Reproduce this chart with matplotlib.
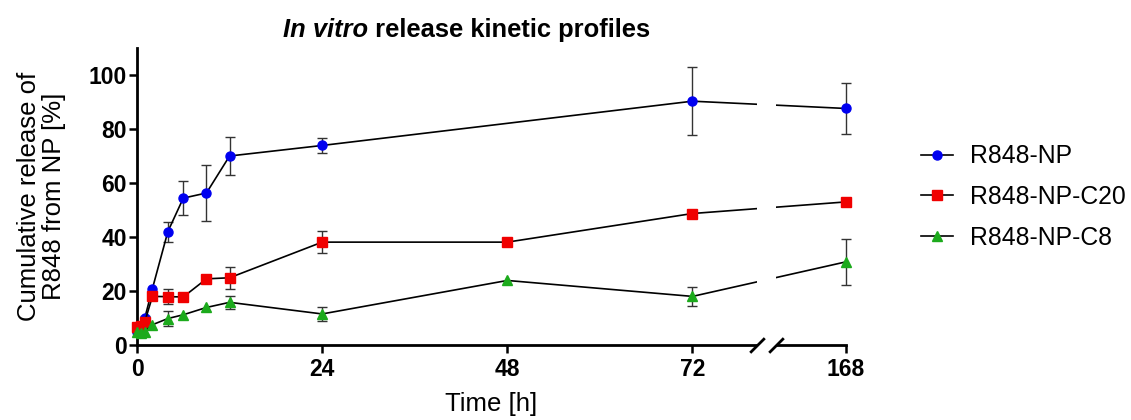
import matplotlib
matplotlib.use("Agg")
import matplotlib.pyplot as plt
import matplotlib.transforms as mtransforms
from matplotlib.patches import Rectangle
import numpy as np

plt.rcParams['font.family'] = ['Liberation Sans', 'DejaVu Sans']

# sampling times [h]
time = np.array([0, 0.5, 1, 2, 4, 6, 9, 12, 24, 48, 72, 168])

# cumulative release [%] (nan = not measured)
np_mean = np.array([5.0, 5.8, 9.9, 20.9, 42.0, 54.4, 56.3, 70.0, 73.9, np.nan, 90.3, 87.6])
np_sd = np.array([0, 0, 0.8, 0, 3.7, 6.3, 10.2, 7.0, 2.8, 0, 12.7, 9.3])
c20_mean = np.array([6.8, 7.0, 8.5, 18.0, 17.9, 17.8, 24.5, 24.9, 38.1, 38.1, 48.7, 53.0])
c20_sd = np.array([0, 0, 0, 1.0, 2.8, 0.8, 1.5, 4.0, 4.2, 0, 0, 0])
c8_mean = np.array([5.0, 4.5, 5.0, 7.5, 9.8, 11.2, 13.9, 15.8, 11.5, 23.9, 18.0, 30.8])
c8_sd = np.array([0, 0, 0, 0, 2.8, 0, 0, 2.5, 2.6, 0, 3.6, 8.4])

labels = ["R848-NP", "R848-NP-C20", "R848-NP-C8"]
xticks = [0, 24, 48, 72, 168]
yticks = [0, 20, 40, 60, 80, 100]

# broken x axis: 0..B1 linear, gap, B2..168 linear
B1, B2, GAP = 80.3, 158.9, 2.5


def fwd(x):
    x = np.asarray(x, float)
    return np.where(x <= B1, x,
                    np.where(x >= B2, x - B2 + B1 + GAP,
                             B1 + (x - B1) * GAP / (B2 - B1)))


def inv(u):
    u = np.asarray(u, float)
    return np.where(u <= B1, u,
                    np.where(u >= B1 + GAP, u - B1 - GAP + B2,
                             B1 + (u - B1) * (B2 - B1) / GAP))


fig = plt.figure(figsize=(11.31, 4.2), dpi=100)
ax = fig.add_axes([137 / 1131, 1 - 345 / 420, 709 / 1131, 297 / 420])
ax.set_xscale('function', functions=(fwd, inv))

series = [(np_mean, np_sd, 'o', '#0000F0', 6.5),
          (c20_mean, c20_sd, 's', '#F00000', 6.6),
          (c8_mean, c8_sd, '^', '#1CAA1C', 7.2)]

for (mean, sd, mk, col, ms), lab in zip(series, labels):
    ok = ~np.isnan(mean)
    has = ok & (sd > 0)
    ax.errorbar(time[has], mean[has], yerr=sd[has], fmt='none', ecolor='#333333',
                elinewidth=1.0, capsize=3.5, capthick=1.0, zorder=2, clip_on=False)
    ax.plot(time[ok], mean[ok], color='black', lw=1.2, marker=mk, ms=ms,
            mfc=col, mec=col, label=lab, zorder=3, clip_on=False)

ax.set_xlim(0, 168)
ax.set_ylim(0, 110)
ax.set_xticks(xticks)
ax.set_xticklabels([str(t) for t in xticks])
ax.set_yticks(yticks)
ax.minorticks_off()

for pos in ['top', 'right']:
    ax.spines[pos].set_visible(False)
for pos in ['left', 'bottom']:
    ax.spines[pos].set_linewidth(2.0)
ax.tick_params(axis='both', length=5.8, width=1.8, labelsize=16.5)
ax.tick_params(axis='x', pad=3.5)
ax.tick_params(axis='y', pad=1.5)
for lab in ax.get_xticklabels() + ax.get_yticklabels():
    lab.set_fontweight('bold')

# white gap + break marks on the x axis
trans = mtransforms.blended_transform_factory(ax.transData, ax.transAxes)
ax.add_patch(Rectangle((B1, -0.02), B2 - B1, 1.05, transform=trans,
                       facecolor='white', edgecolor='none', zorder=10, clip_on=False))
ax.plot([B1, B2], [0, 0], linestyle='none', marker=[(-1, -1), (1, 1)], ms=10.5,
        mew=2.0, color='black', zorder=11, clip_on=False)

ax.set_xlabel("Time [h]", fontsize=18.5)
ax.xaxis.set_label_coords(0.5, (345 - 411) / 297)
ax.xaxis.label.set_va('baseline')
ax.set_ylabel("Cumulative release of\nR848 from NP [%]", fontsize=18.5, linespacing=1.1)
ax.yaxis.set_label_coords((41.5 - 137) / 709, 0.5)
ax.yaxis.label.set_va('center')

t1 = fig.text(283 / 1131, 1 - 37 / 420, "In vitro", fontsize=18.4,
              fontweight='bold', fontstyle='italic', ha='left', va='baseline')
ax.annotate(" release kinetic profiles", xy=(1, 0), xycoords=t1, fontsize=18.4,
            fontweight='bold', ha='left', va='bottom')

ax.legend(loc='center left', bbox_to_anchor=(921 / 1131, 1 - 197 / 420),
          bbox_transform=fig.transFigure, frameon=False, fontsize=17.8,
          handlelength=1.3, handletextpad=0.7, labelspacing=0.67,
          borderaxespad=0, borderpad=0)

fig.savefig("out.png", dpi=100)
